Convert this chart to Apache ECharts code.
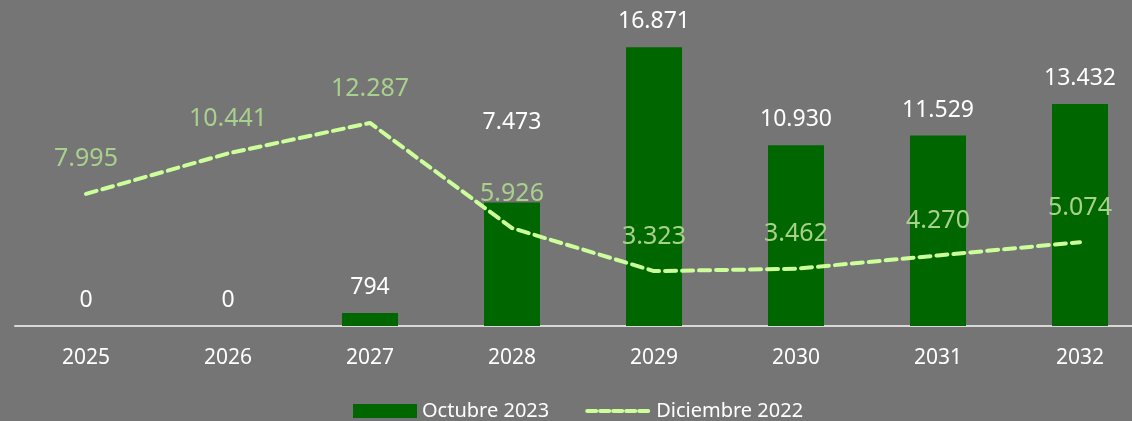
<!DOCTYPE html>
<html>
<head>
<meta charset="utf-8">
<script src="https://cdn.jsdelivr.net/npm/echarts@6/dist/echarts.min.js"></script>
<style>
  html, body { margin: 0; padding: 0; background: #757575; overflow: hidden; }
  /* plot runs past the right edge in the original, so the canvas is a bit wider than the window */
  #chart { width: 1151px; height: 421px; }
</style>
</head>
<body>
<div id="chart"></div>
<script>
const years = ['2025', '2026', '2027', '2028', '2029', '2030', '2031', '2032']
const octubre2023 = [0, 0, 794, 7473, 16871, 10930, 11529, 13432]
const diciembre2022 = [7995, 10441, 12287, 5926, 3323, 3462, 4270, 5074]

const fmt = v => String(v).replace(/\B(?=(\d{3})+(?!\d))/g, '.')
const font = '"Noto Sans", sans-serif'

// the 2028 bar label sits higher in the original (moved to clear the line label)
const barData = octubre2023.map((v, i) => i === 3
  ? { value: v, label: { offset: [0, -55] } }
  : v)

const chart = echarts.init(document.getElementById('chart'))
chart.setOption({
  backgroundColor: '#757575',
  animation: false,
  textStyle: { fontFamily: font },
  grid: { top: 12, left: 15, right: 0, bottom: 95, containLabel: false },
  legend: {
    top: 396,
    left: 348,
    itemWidth: 64,
    itemHeight: 14,
    itemGap: 36,
    textStyle: { color: '#ffffff', fontSize: 20, fontFamily: font },
    data: [
      { name: 'Octubre 2023', icon: 'rect' },
      {
        name: 'Diciembre 2022',
        itemStyle: { opacity: 0 },
        lineStyle: { width: 4, type: [9, 4], cap: 'round' }
      }
    ]
  },
  xAxis: {
    type: 'category',
    data: years,
    axisTick: { show: false },
    axisLine: { show: true, lineStyle: { color: '#d9d9d9', width: 2 } },
    axisLabel: { color: '#ffffff', fontSize: 21, margin: 22, fontFamily: font }
  },
  yAxis: {
    type: 'value',
    min: 0,
    max: 19000,
    show: false,
    splitLine: { show: false }
  },
  series: [
    {
      name: 'Octubre 2023',
      type: 'bar',
      data: barData,
      barWidth: 56,
      itemStyle: { color: '#006600' },
      label: {
        show: true,
        position: 'top',
        distance: 14,
        color: '#ffffff',
        fontSize: 23,
        fontFamily: font,
        formatter: p => fmt(p.value)
      }
    },
    {
      name: 'Diciembre 2022',
      type: 'line',
      data: diciembre2022,
      symbol: 'circle',
      symbolSize: 0,
      showSymbol: true,
      itemStyle: { color: '#ccff99' },
      lineStyle: { color: '#ccff99', width: 4, type: [11, 6], cap: 'round' },
      label: {
        show: true,
        position: 'top',
        distance: 22,
        color: '#a9d18e',
        fontSize: 25,
        fontFamily: font,
        formatter: p => fmt(p.value)
      }
    }
  ]
})
</script>
</body>
</html>
